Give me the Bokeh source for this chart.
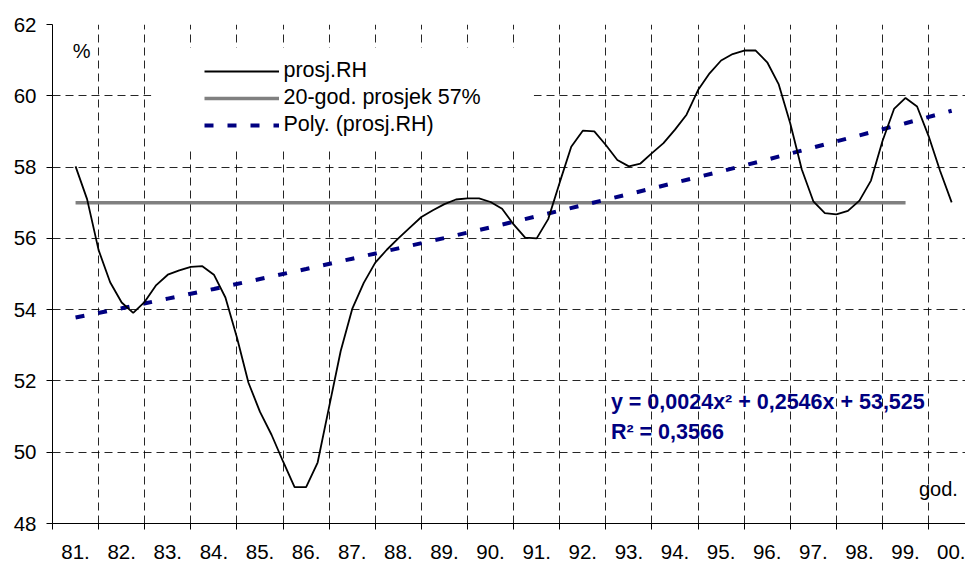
from bokeh.plotting import figure
from bokeh.models import FixedTicker, Legend, LegendItem, Label, BoxAnnotation, Range1d
from bokeh.embed import file_html
from bokeh.resources import INLINE

# ---- data ----
years = ["81.", "82.", "83.", "84.", "85.", "86.", "87.", "88.", "89.", "90.",
         "91.", "92.", "93.", "94.", "95.", "96.", "97.", "98.", "99.", "00."]

# prosj.RH read quarterly (4 readings per year, from 81. to 00.)
rh_quarterly = [
    58.02, 57.10, 55.67, 54.77, 54.20, 53.91, 54.22, 54.69, 54.98, 55.10,
    55.20, 55.22, 54.98, 54.34, 53.22, 51.95, 51.13, 50.49, 49.74, 49.02,
    49.02, 49.71, 51.28, 52.84, 54.02, 54.75, 55.32, 55.68, 56.00, 56.30,
    56.60, 56.79, 56.96, 57.09, 57.12, 57.12, 57.02, 56.83, 56.39, 56.02,
    56.00, 56.54, 57.57, 58.57, 59.02, 59.00, 58.62, 58.20, 58.02, 58.10,
    58.39, 58.67, 59.05, 59.47, 60.16, 60.63, 60.99, 61.17, 61.27, 61.27,
    60.94, 60.32, 59.22, 57.93, 57.04, 56.71, 56.67, 56.77, 57.06, 57.62,
    58.73, 59.63, 59.94, 59.70, 58.87, 57.89, 57.01,
]
readings_per_year = 4

avg_level = 57
avg_first, avg_last = "81.", "99."

# Poly. (prosj.RH) trend values, one per year
trend = [53.78, 54.04, 54.31, 54.58, 54.86, 55.14, 55.43, 55.72, 56.01, 56.31,
         56.62, 56.93, 57.24, 57.56, 57.88, 58.21, 58.55, 58.89, 59.23, 59.58]

y_ticks = [48, 50, 52, 54, 56, 58, 60, 62]

series_names = ["prosj.RH", "20-god. prosjek 57%", "Poly. (prosj.RH)"]
eq_text = "y = 0,0024x\u00b2 + 0,2546x + 53,525"
r2_text = "R\u00b2 = 0,3566"
unit_text = "%"
xunit_text = "god."

FONT = "Liberation Sans"

# ---- positions on a numeric category scale (category i centred at i + 0.5) ----
centers = [i + 0.5 for i in range(len(years))]
boundaries = list(range(0, len(years)))
rh_x = [0.5 + k / readings_per_year for k in range(len(rh_quarterly))]
avg_x = [years.index(avg_first) + 0.5, years.index(avg_last) + 0.5]
avg_y = [avg_level, avg_level]

p = figure(width=965, height=562, output_backend="svg", toolbar_location=None,
           x_range=Range1d(0, 19.8), y_range=Range1d(48, 62),
           min_border_left=52, min_border_right=0, min_border_top=24,
           min_border_bottom=39)
p.outline_line_color = None
p.background_fill_color = "white"

# grids
p.xgrid.ticker = FixedTicker(ticks=boundaries[1:])
p.ygrid.ticker = FixedTicker(ticks=y_ticks[1:])
for g in (p.xgrid, p.ygrid):
    g.grid_line_color = "black"
    g.grid_line_dash = "8 5"
    g.grid_line_width = 1
    g.grid_line_alpha = 0.85

# white area behind legend (hides grid there)
p.add_layout(BoxAnnotation(left=2.14, right=10.44, bottom=58.55, top=61.35,
                           fill_color="white", fill_alpha=1.0, line_alpha=0,
                           level="underlay"))

# x axis
xa = p.xaxis[0]
xa.ticker = FixedTicker(ticks=centers, minor_ticks=boundaries)
xa.major_label_overrides = {c: y for c, y in zip(centers, years)}
xa.major_tick_out = 0
xa.major_tick_in = 0
xa.minor_tick_out = 6
xa.minor_tick_in = 0
xa.minor_tick_line_color = "black"
xa.major_label_standoff = 15
xa.axis_line_color = "black"
xa.major_label_text_font = FONT
xa.major_label_text_font_size = "20.5px"
xa.major_label_text_color = "black"

# y axis
ya = p.yaxis[0]
ya.ticker = FixedTicker(ticks=y_ticks)
ya.major_tick_out = 6
ya.major_tick_in = 0
ya.minor_tick_out = 0
ya.minor_tick_in = 0
ya.major_label_standoff = 10
ya.axis_line_color = "black"
ya.major_tick_line_color = "black"
ya.major_label_text_font = FONT
ya.major_label_text_font_size = "20.5px"
ya.major_label_text_color = "black"

# series
r_avg = p.line(avg_x, avg_y, line_color="#808080", line_width=3.5)
r_trend = p.line(centers, trend, line_color="#000080", line_width=4,
                 line_dash="9 14")
r_rh = p.line(rh_x, rh_quarterly, line_color="black", line_width=1.8)

legend = Legend(items=[LegendItem(label=series_names[0], renderers=[r_rh]),
                       LegendItem(label=series_names[1], renderers=[r_avg]),
                       LegendItem(label=series_names[2], renderers=[r_trend])],
                location=(151.5, 386), orientation="vertical",
                glyph_width=75, glyph_height=20, label_height=20, spacing=2,
                padding=0, margin=0, label_standoff=5,
                background_fill_alpha=0, border_line_alpha=0,
                label_text_font=FONT, label_text_font_size="21.5px",
                label_text_color="black")
p.add_layout(legend)

# texts
p.add_layout(Label(x=0.44, y=61.27, text=unit_text, text_font=FONT,
                   text_font_size="20px", text_baseline="middle",
                   text_color="black"))
p.add_layout(Label(x=18.79, y=48.98, text=xunit_text, text_font=FONT,
                   text_font_size="20px", text_baseline="middle",
                   text_color="black"))
p.add_layout(Label(x=12.11, y=51.40, text=eq_text, text_font=FONT,
                   text_font_size="21.5px", text_font_style="bold",
                   text_baseline="middle", text_color="#000080"))
p.add_layout(Label(x=12.11, y=50.56, text=r2_text, text_font=FONT,
                   text_font_size="21.5px", text_font_style="bold",
                   text_baseline="middle", text_color="#000080"))

open("out.html", "w").write(file_html(p, INLINE))
